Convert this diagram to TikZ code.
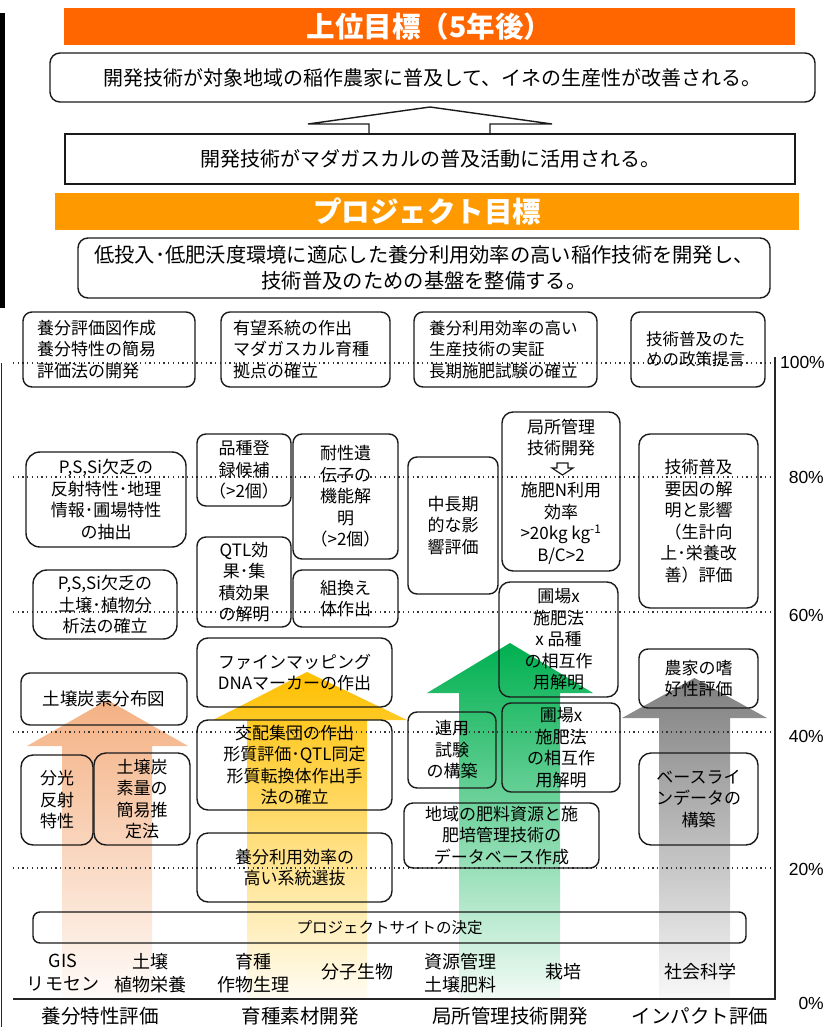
\documentclass[tikz,border=0pt]{standalone}
\usepackage{fontspec}
\setmainfont{Noto Sans CJK JP}
\newfontfamily\arialf{Liberation Sans}
\definecolor{banA}{HTML}{FF6600}
\definecolor{banB}{HTML}{FF9900}
\definecolor{peach}{HTML}{F4B183}
\definecolor{ylw}{HTML}{FFC000}
\definecolor{grn}{HTML}{00B050}
\definecolor{gry}{HTML}{7F7F7F}
\definecolor{edge}{HTML}{1A1A1A}
\begin{document}
\begin{tikzpicture}[x=1pt,y=-1pt,
  box/.style={draw=edge, line width=1.4pt, rounded corners=9pt, inner sep=0pt, align=center, font=\fontsize{17}{21.5}\selectfont},
  lbox/.style={box, align=left},
  bigbox/.style={draw=edge, line width=1.4pt, inner sep=0pt, align=center, font=\fontsize{20}{26}\selectfont},
  banner/.style={inner sep=0pt, text=white, font=\fontsize{28.5}{30}\selectfont\bfseries},
  txt/.style={inner sep=0pt, align=center, font=\fontsize{17}{21.5}\selectfont},
  lbl/.style={inner sep=0pt, align=center, font=\fontsize{18}{23}\selectfont},
  cat/.style={inner sep=0pt, font=\fontsize{19.5}{23}\selectfont},
  pct/.style={inner sep=0pt, anchor=east, font=\arialf\fontsize{17.5}{20}\selectfont},
  gridline/.style={line width=1.3pt, dash pattern=on 1.3pt off 3.4pt, black!80},
  frame/.style={line width=1.3pt, black!85}]
\useasboundingbox (0,0) rectangle (830,1027);

% ---------- top section ----------
\fill[black] (0,13) rectangle (5,308);
\node[banner, fill=banA, minimum width=731pt, minimum height=37pt] (ban1) at (429.5,26.5) {上位目標（5年後）};
\node[bigbox, rounded corners=10pt, minimum width=765pt, minimum height=49pt] (sup) at (432.5,77.5) {開発技術が対象地域の稲作農家に普及して、イネの生産性が改善される。};
\node[bigbox, minimum width=730pt, minimum height=50pt] (use) at (430,159) {開発技術がマダガスカルの普及活動に活用される。};
\draw[line width=1.4pt, edge, line join=miter] (369,134) -- (369,124) -- (308,124) -- (430,107) -- (552,124) -- (490,124) -- (490,134);
\node[banner, fill=banB, minimum width=744pt, minimum height=37pt] (ban2) at (427,211.5) {プロジェクト目標};
\node[bigbox, rounded corners=10pt, minimum width=692pt, minimum height=60pt, font=\fontsize{20.3}{26}\selectfont] (pg) at (424,268) {低投入･低肥沃度環境に適応した養分利用効率の高い稲作技術を開発し、\\技術普及のための基盤を整備する。};

% ---------- big arrows ----------
\shade[top color=peach, bottom color=peach!5] (62,999) -- (62,746) -- (27,746) -- (107.5,700) -- (188,746) -- (152,746) -- (152,999) -- cycle;
\shade[top color=ylw, bottom color=ylw!5] (247,999) -- (247,720) -- (213,720) -- (307,672) -- (407,720) -- (367,720) -- (367,999) -- cycle;
\shade[top color=grn, bottom color=grn!5] (459,999) -- (459,693) -- (427,693) -- (510,643) -- (593,693) -- (560,693) -- (560,999) -- cycle;
\shade[top color=gry, bottom color=gry!5] (659,999) -- (659,718) -- (622,718) -- (694.5,678) -- (767,718) -- (730,718) -- (730,999) -- cycle;

% ---------- grid and frame ----------
\foreach \yy in {363,477,612,732,868} \draw[gridline] (13,\yy) -- (772,\yy);
\draw[frame] (775,357) -- (775,999) -- (13,999);
\draw[line width=1pt, black!85] (1.5,363) -- (1.5,1027);
\node[pct] (p100) at (825,362) {100\%};
\node[pct] (p80) at (824,477) {80\%};
\node[pct] (p60) at (824,615) {60\%};
\node[pct] (p40) at (824,736) {40\%};
\node[pct] (p20) at (824,869) {20\%};
\node[pct] (p0) at (824,1003) {0\%};

% ---------- outcome boxes (100%) ----------
\node[lbox, text width=144pt, inner xsep=14pt, minimum height=75pt] (A) at (109,349.5) {養分評価図作成\\養分特性の簡易\\評価法の開発};
\node[lbox, text width=145pt, inner xsep=12pt, minimum height=75pt] (B) at (305.5,349.5) {有望系統の作出\\マダガスカル育種\\拠点の確立};
\node[lbox, text width=153pt, inner xsep=15pt, minimum height=75pt, font=\fontsize{16.5}{21.5}\selectfont] (C) at (505.5,349.5) {養分利用効率の高い\\生産技術の実証\\長期施肥試験の確立};
\node[lbox, text width=104pt, inner xsep=15pt, minimum height=75pt, font=\fontsize{16.5}{20}\selectfont] (D) at (698,349.5) {技術普及のた\\めの政策提言};

% ---------- column 1 ----------
\node[box, rounded corners=14pt, minimum width=160pt, minimum height=95pt] (E) at (106,499.5) {P,S,Si欠乏の\\反射特性･地理\\情報･圃場特性\\の抽出};
\node[box, rounded corners=14pt, minimum width=144pt, minimum height=69pt] (F) at (105,604.5) {P,S,Si欠乏の\\土壌･植物分\\析法の確立};
\node[box, minimum width=166pt, minimum height=52pt, font=\fontsize{17.5}{21.5}\selectfont] (O) at (104,699) {土壌炭素分布図};
\node[box, rounded corners=12pt, minimum width=72pt, minimum height=90pt] (P) at (57,800) {分光\\反射\\特性};
\node[box, rounded corners=12pt, minimum width=96pt, minimum height=92pt] (Q) at (142,799) {土壌炭\\素量の\\簡易推\\定法};

% ---------- column 2 ----------
\node[box, minimum width=94pt, minimum height=72pt] (G) at (244,470) {品種登\\録候補\\（>2個）};
\node[box, minimum width=105pt, minimum height=125pt] (H) at (345.5,496.5) {耐性遺\\伝子の\\機能解\\明\\（>2個）};
\node[box, minimum width=94pt, minimum height=90pt] (I) at (244,582) {QTL効\\果･集\\積効果\\の解明};
\node[box, minimum width=105pt, minimum height=57pt] (J) at (345.5,598.5) {組換え\\体作出};
\node[box, rounded corners=11pt, minimum width=195pt, minimum height=69pt] (R) at (294.5,672.5) {ファインマッピング\\DNAマーカーの作出};
\node[box, rounded corners=11pt, minimum width=195pt, minimum height=90pt] (S) at (294.5,765) {交配集団の作出\\形質評価･QTL同定\\形質転換体作出手\\法の確立};
\node[box, rounded corners=11pt, minimum width=195pt, minimum height=69pt] (T) at (294.5,867.5) {養分利用効率の\\高い系統選抜};

% ---------- column 3 ----------
\node[box, minimum width=90pt, minimum height=137pt] (K) at (453,525.5) {中長期\\的な影\\響評価};
\node[box, rounded corners=11pt, minimum width=118pt, minimum height=159pt] (L) at (561,491.5) {};
\node[txt] (Lt) at (561,437.5) {局所管理\\技術開発};
\draw[line width=1.2pt, edge] (557,463) -- (557,468) -- (552,468) -- (562.5,475) -- (573,468) -- (568,468) -- (568,463) -- cycle;
\node[txt] (Lb) at (561,523.5) {施肥N利用\\効率\\>20kg kg\textsuperscript{-1}\\B/C>2};
\node[box, rounded corners=11pt, minimum width=119pt, minimum height=115pt] (N) at (558.5,639.5) {圃場x\\施肥法\\x 品種\\の相互作\\用解明};
\node[box, minimum width=88pt, minimum height=76pt] (V) at (452,750) {連用\\試験\\の構築};
\node[box, minimum width=118pt, minimum height=89pt] (W) at (561,747.5) {圃場x\\施肥法\\の相互作\\用解明};
\node[box, minimum width=195pt, minimum height=65pt] (X) at (501.5,835.5) {地域の肥料資源と施\\肥培管理技術の\\データベース作成};

% ---------- column 4 ----------
\node[box, rounded corners=11pt, minimum width=119pt, minimum height=174pt] (M) at (698.5,521) {技術普及\\要因の解\\明と影響\\（生計向\\上･栄養改\\善）評価};
\node[box, minimum width=119pt, minimum height=59pt] (Y) at (698.5,678.5) {農家の嗜\\好性評価};
\node[box, rounded corners=12pt, minimum width=119pt, minimum height=92pt] (Z) at (698.5,799) {ベースライ\\ンデータの\\構築};

% ---------- base ----------
\node[box, rounded corners=7pt, minimum width=713pt, minimum height=31pt, font=\fontsize{15.5}{18}\selectfont] (U) at (389.5,927.5) {プロジェクトサイトの決定};

\node[lbl] (d1) at (63,973) {GIS\\リモセン};
\node[lbl] (d2) at (150,973) {土壌\\植物栄養};
\node[lbl] (d3) at (253,973) {育種\\作物生理};
\node[lbl] (d4) at (357,972) {分子生物};
\node[lbl] (d5) at (460,973) {資源管理\\土壌肥料};
\node[lbl] (d6) at (563,972) {栽培};
\node[lbl] (d7) at (700,972) {社会科学};

\node[cat] (c1) at (100,1016) {養分特性評価};
\node[cat] (c2) at (300,1016) {育種素材開発};
\node[cat] (c3) at (510,1016) {局所管理技術開発};
\node[cat] (c4) at (700,1016) {インパクト評価};
\end{tikzpicture}
\end{document}
